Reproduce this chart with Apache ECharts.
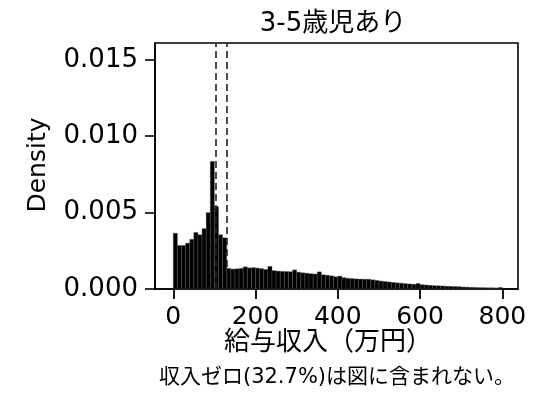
<!DOCTYPE html>
<html><head><meta charset="utf-8">
<script src="https://cdn.jsdelivr.net/npm/echarts@6/dist/echarts.min.js"></script>
<style>html,body{margin:0;padding:0;background:#fff}#c{width:534px;height:394px}</style>
</head><body><div id="c"></div>
<script>
const titleText = '3-5歳児あり';
const xTitle = '給与収入（万円）';
const yTitle = 'Density';
const note = '収入ゼロ(32.7%)は図に含まれない。';
const xTicks = [0, 200, 400, 600, 800];
const yTicks = [0, 0.005, 0.010, 0.015];
const refLines = [103, 130];
const binWidth = 10;
const binStart = [0,10,20,30,40,50,60,70,80,90,100,110,120,130,140,150,160,170,180,190,
  200,210,220,230,240,250,260,270,280,290,300,310,320,330,340,350,360,370,380,390,
  400,410,420,430,440,450,460,470,480,490,500,510,520,530,540,550,560,570,580,590,
  600,610,620,630,640,650,660,670,680,690,700,710,720,730,740,750,760,770,780,790];
const density = [0.00365,0.00285,0.00285,0.00300,0.00325,0.00370,0.00355,0.00395,0.00500,0.00835,
  0.00540,0.00355,0.00335,0.00135,0.00130,0.00132,0.00135,0.00145,0.00138,0.00140,
  0.00137,0.00133,0.00128,0.00148,0.00120,0.00117,0.00115,0.00114,0.00113,0.00125,
  0.00110,0.00106,0.00103,0.00100,0.00098,0.00112,0.00093,0.00090,0.00086,0.00080,
  0.00084,0.00074,0.00070,0.00068,0.00066,0.00065,0.00064,0.00064,0.00060,0.00056,
  0.00052,0.00049,0.00046,0.00043,0.00040,0.00038,0.00035,0.00033,0.00031,0.00036,
  0.00028,0.00026,0.00024,0.00022,0.00021,0.00020,0.00018,0.00017,0.00016,0.00015,
  0.00013,0.00012,0.00011,0.00010,0.00009,0.00009,0.00008,0.00008,0.00007,0.00010];

const FONT = '"DejaVu Sans", "Noto Sans CJK JP", sans-serif';
const chart = echarts.init(document.getElementById('c'), null, {renderer: 'canvas'});
const data = binStart.map((s, i) => [s, s + binWidth, density[i]]);
chart.setOption({
  animation: false,
  grid: {left: 155, right: 16, top: 43, bottom: 105, show: true, borderColor: '#000', borderWidth: 1.6, backgroundColor: 'transparent'},
  xAxis: {
    type: 'value', min: -44.4, max: 838, position: 'bottom',
    axisLine: {show: true, onZero: false, lineStyle: {color: '#000', width: 1.6}},
    splitLine: {show: false},
    axisTick: {show: true, inside: false, customValues: xTicks, length: 10, lineStyle: {color: '#000', width: 1.8}},
    axisLabel: {customValues: xTicks, margin: 16, fontSize: 25, color: '#000', fontFamily: FONT}
  },
  yAxis: {
    type: 'value', min: 0, max: 0.0161, position: 'left',
    axisLine: {show: true, onZero: false, lineStyle: {color: '#000', width: 1.6}},
    splitLine: {show: false},
    axisTick: {show: true, inside: false, customValues: yTicks, length: 10, lineStyle: {color: '#000', width: 1.6}},
    axisLabel: {customValues: yTicks, margin: 17, fontSize: 26, color: '#000', fontFamily: FONT,
      formatter: v => v.toFixed(3)}
  },
  series: [{
    type: 'custom',
    data: data,
    encode: {x: [0, 1], y: 2},
    renderItem: function (params, api) {
      const p0 = api.coord([api.value(0), api.value(2)]);
      const p1 = api.coord([api.value(1), 0]);
      return {
        type: 'rect',
        shape: {x: p0[0], y: p0[1], width: p1[0] - p0[0], height: p1[1] - p0[1]},
        style: {fill: '#000', stroke: '#555', lineWidth: 0.4}
      };
    },
    markLine: {
      silent: true, symbol: 'none', label: {show: false},
      lineStyle: {color: '#222', type: [7, 4], width: 1.6},
      data: refLines.map(v => ({xAxis: v}))
    },
    z: 2
  }],
  graphic: [
    {type: 'text', x: 333, y: 24, style: {text: titleText, fontSize: 26, fontFamily: FONT, fill: '#000', align: 'center', verticalAlign: 'middle'}},
    {type: 'text', x: 328, y: 343, style: {text: xTitle, fontSize: 26, fontFamily: FONT, fill: '#000', align: 'center', verticalAlign: 'middle'}},
    {type: 'text', x: 337, y: 378, style: {text: note, fontSize: 21, fontFamily: FONT, fill: '#000', align: 'center', verticalAlign: 'middle'}},
    {type: 'text', x: 38, y: 165, rotation: Math.PI / 2, style: {text: yTitle, fontSize: 25, fontFamily: FONT, fill: '#000', align: 'center', verticalAlign: 'middle'}}
  ]
});
</script></body></html>
